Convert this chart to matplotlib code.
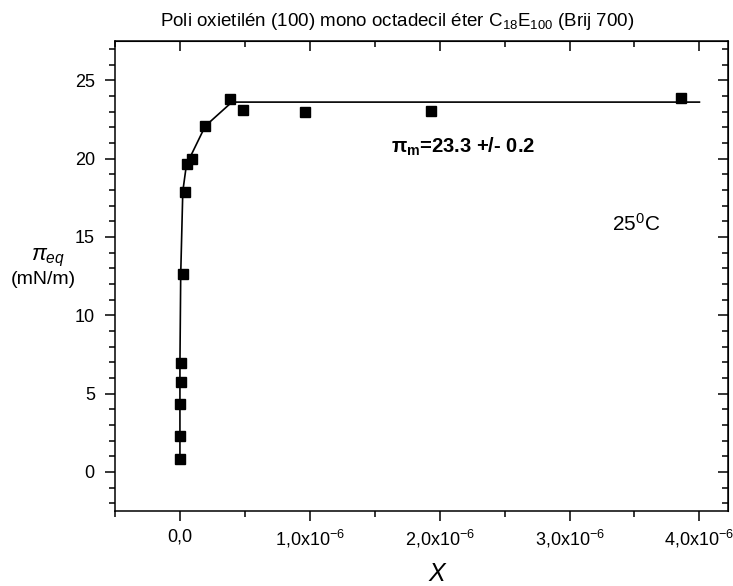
import numpy as np
import matplotlib
matplotlib.use('Agg')
from matplotlib import pyplot as plt
from matplotlib.ticker import MultipleLocator

plt.rcParams['font.family'] = ['Liberation Sans', 'DejaVu Sans']
plt.rcParams['mathtext.fontset'] = 'custom'
plt.rcParams['mathtext.rm'] = 'Liberation Sans'
plt.rcParams['mathtext.it'] = 'Liberation Sans:italic'
plt.rcParams['mathtext.bf'] = 'Liberation Sans:bold'

# measured points (x in units of 1e-6)
x_data = [0.0, 0.0, 0.0, 0.01, 0.005, 0.02, 0.041, 0.051, 0.095, 0.195,
          0.385, 0.4825, 0.965, 1.93, 3.86]
y_data = [0.81, 2.31, 4.31, 5.75, 6.92, 12.65, 17.88, 19.66, 19.98, 22.07,
          23.8, 23.1, 23.0, 23.06, 23.85]

# guide line through the data
fit_x = [0.0, 0.0, 0.006, 0.022, 0.05, 0.195, 0.40, 4.0]
fit_y = [0.8, 6.9, 12.6, 17.9, 19.6, 22.07, 23.6, 23.6]

xticks = [0, 1, 2, 3, 4]
xtick_labels = ['0,0', r'$\mathregular{1{,}0x10^{-6}}$', r'$\mathregular{2{,}0x10^{-6}}$',
                r'$\mathregular{3{,}0x10^{-6}}$', r'$\mathregular{4{,}0x10^{-6}}$']

scale = 1e-6
fig = plt.figure(figsize=(7.33, 5.86), dpi=100)
ax = fig.add_axes([115 / 733, 1 - 511 / 586, (728 - 115) / 733, (511 - 41) / 586])

ax.plot(np.array(fit_x) * scale, fit_y, color='black', lw=1.2)
ax.plot(np.array(x_data) * scale, y_data, 's', color='black', ms=6.5)

ax.set_xlim(-0.5e-6, 4.22e-6)
ax.set_ylim(-2.5, 27.5)

ax.set_xticks(np.array(xticks) * scale)
ax.set_xticklabels(xtick_labels)
ax.xaxis.set_minor_locator(MultipleLocator(0.5e-6))
ax.yaxis.set_major_locator(MultipleLocator(5))
ax.yaxis.set_minor_locator(MultipleLocator(1))

for s in ax.spines.values():
    s.set_linewidth(1.1)
ax.tick_params(which='major', direction='out', length=7.5, width=1.1, labelsize=13)
ax.tick_params(axis='y', which='major', pad=7)
ax.tick_params(axis='x', which='major', pad=5)
ax.tick_params(which='minor', direction='out', length=4.5, width=1.1)

# inward ticks on top and right, like the original
top = ax.secondary_xaxis('top')
top.set_xticks(np.array(xticks) * scale)
top.xaxis.set_minor_locator(MultipleLocator(0.5e-6))
top.tick_params(which='major', direction='in', length=7.5, width=1.1, labeltop=False)
top.tick_params(which='minor', direction='in', length=4.5, width=1.1)
right = ax.secondary_yaxis('right')
right.yaxis.set_major_locator(MultipleLocator(5))
right.yaxis.set_minor_locator(MultipleLocator(1))
right.tick_params(which='major', direction='in', length=7.5, width=1.1, labelright=False)
right.tick_params(which='minor', direction='in', length=4.5, width=1.1)

fig.text(397 / 733, 1 - 22 / 586,
         r'Poli oxietilén (100) mono octadecil éter C$\mathregular{_{18}}$E$\mathregular{_{100}}$ (Brij 700)',
         ha='center', va='center', fontsize=13.5)

fig.text(437 / 733, 1 - 574 / 586, 'X', style='italic', ha='center', va='center', fontsize=18)
fig.text(48 / 733, 1 - 258 / 586, r'$\pi_{eq}$', ha='center', va='center', fontsize=16)
fig.text(43 / 733, 1 - 280 / 586, '(mN/m)', ha='center', va='center', fontsize=14)

fig.text(391 / 733, 1 - 153 / 586, r'$\mathregular{\pi_m}$=23.3 +/- 0.2',
         ha='left', va='baseline', fontsize=14.5, fontweight='bold')
fig.text(612 / 733, 1 - 231 / 586, r'25$\mathregular{^0}$C', ha='left', va='baseline', fontsize=15)

fig.savefig('out.png', dpi=100)
